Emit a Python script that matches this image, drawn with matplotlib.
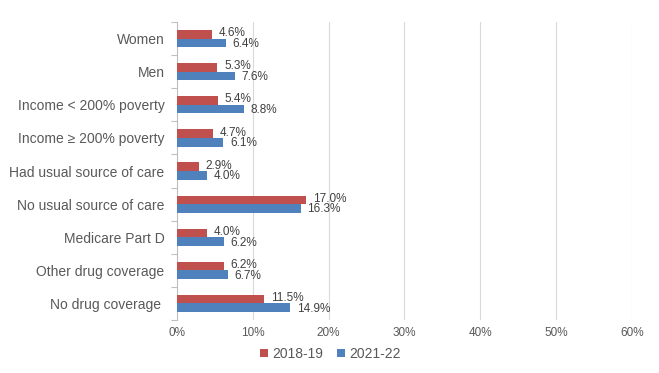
import numpy as np
import matplotlib.pyplot as plt
from matplotlib.ticker import FixedLocator, PercentFormatter

plt.rcParams['font.family'] = ['Liberation Sans', 'DejaVu Sans']

categories = ["Women", "Men", "Income < 200% poverty", "Income \u2265 200% poverty",
              "Had usual source of care", "No usual source of care",
              "Medicare Part D", "Other drug coverage", "No drug coverage "]
v2018 = [4.6, 5.3, 5.4, 4.7, 2.9, 17.0, 4.0, 6.2, 11.5]
v2021 = [6.4, 7.6, 8.8, 6.1, 4.0, 16.3, 6.2, 6.7, 14.9]
series = ["2018-19", "2021-22"]
colors = ["#c0504d", "#4f81bd"]
txt = "#404040"
axis_txt = "#595959"

fig = plt.figure(figsize=(6.59, 3.73), dpi=100)
ax = fig.add_axes([0.2686, 0.142, 0.6904, 0.799])

y = np.arange(len(categories))
h = 0.26
for vals, off, col, lab, dy in [(v2018, -h / 2, colors[0], series[0], -0.03),
                                (v2021, h / 2, colors[1], series[1], 0.03)]:
    ax.barh(y + off, vals, height=h, color=col, label=lab, zorder=3)
    for yi, v in zip(y + off + dy, vals):
        ax.text(v + 0.9, yi, f"{v:.1f}%", va="center", ha="left",
                fontsize=8.5, color=txt, zorder=4)

ax.set_xlim(0, 60)
ax.set_ylim(len(categories) - 0.5, -0.5)
ax.set_xticks(np.arange(0, 61, 10))
ax.xaxis.set_major_formatter(PercentFormatter(decimals=0))
ax.set_yticks(y)
ax.set_yticklabels(categories)
ax.yaxis.set_minor_locator(FixedLocator(np.arange(-0.5, len(categories), 1)))
ax.tick_params(axis="y", which="major", length=0, pad=9, labelsize=10, labelcolor=axis_txt)
ax.tick_params(axis="y", which="minor", length=4, color="#bfbfbf", width=0.8)
ax.tick_params(axis="x", length=0, pad=5, labelsize=8.5, labelcolor=axis_txt)
ax.grid(axis="x", color="#d9d9d9", linewidth=0.8, zorder=0)
for s in ["top", "right", "bottom"]:
    ax.spines[s].set_visible(False)
ax.spines["left"].set_color("#bfbfbf")
ax.spines["left"].set_linewidth(0.8)

ax.legend(loc="center", bbox_to_anchor=(0.501, 0.051), bbox_transform=fig.transFigure,
          ncol=2, frameon=False, fontsize=10, handlelength=0.6, handleheight=0.6,
          handletextpad=0.3, columnspacing=1.0, labelcolor=axis_txt)

fig.savefig("out.png", dpi=100)
